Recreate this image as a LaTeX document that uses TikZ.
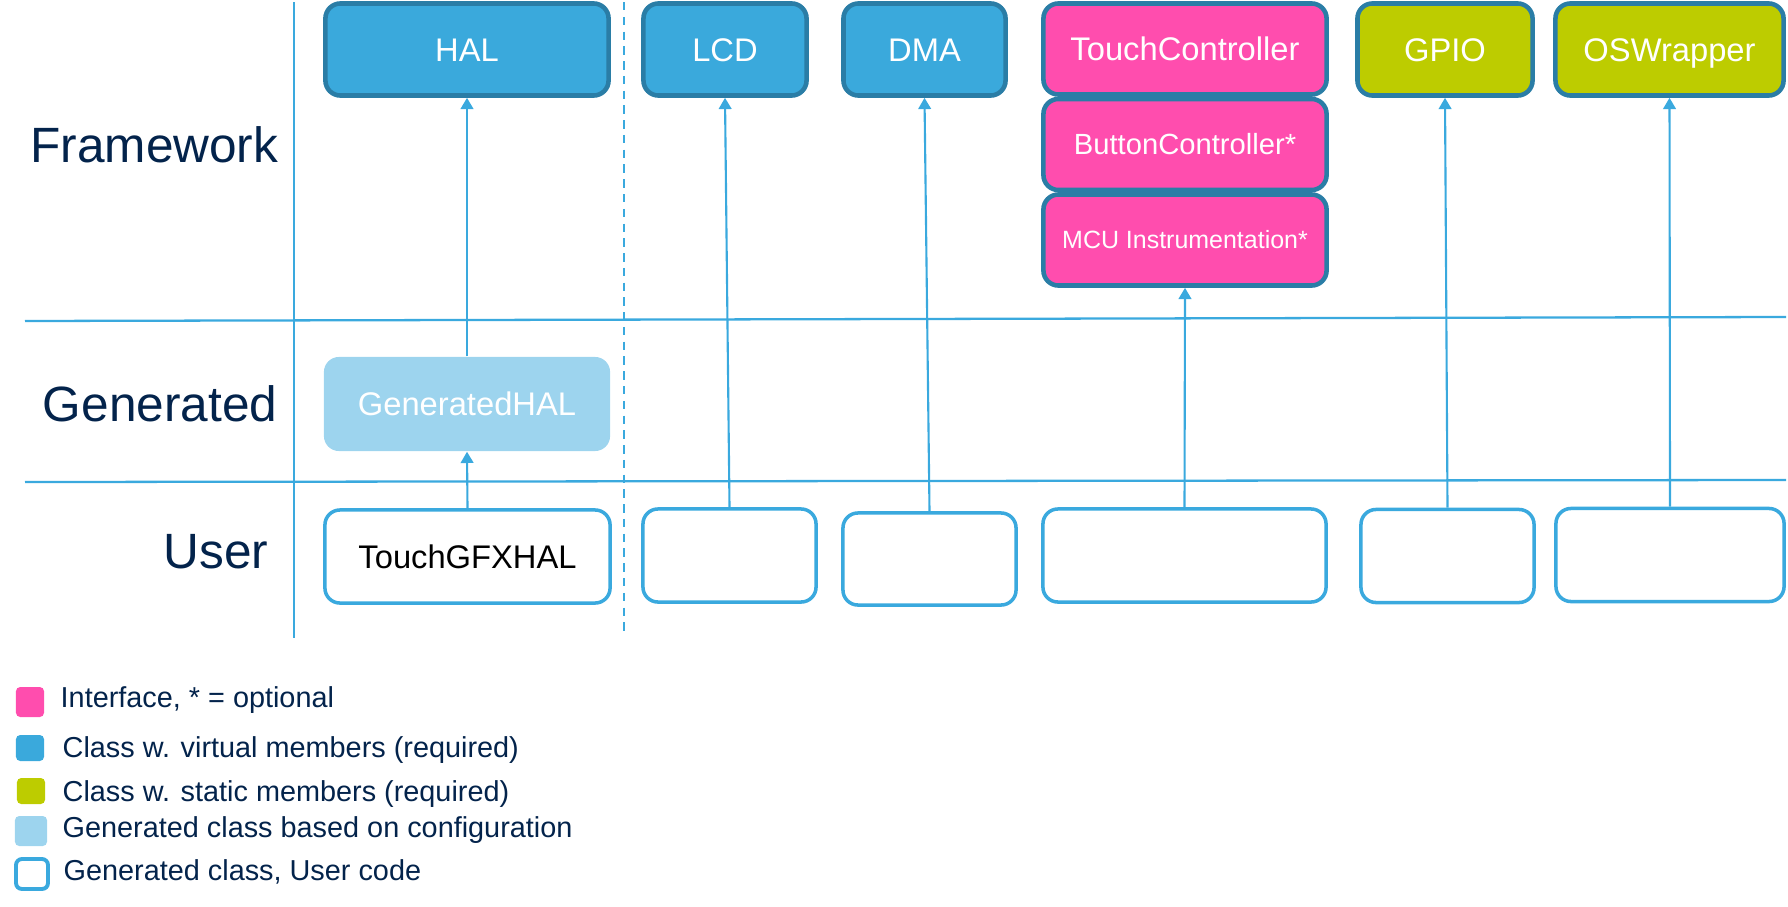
\documentclass[tikz,border=0pt]{standalone}
\usepackage{fontspec}
\setmainfont{Liberation Sans}
\usetikzlibrary{arrows.meta}
\definecolor{stblue}{HTML}{3AA9DC}
\definecolor{stdark}{HTML}{2A7DA6}
\definecolor{stpink}{HTML}{FF4DAE}
\definecolor{stgreen}{HTML}{BDCC00}
\definecolor{stlight}{HTML}{9DD4EE}
\definecolor{stnavy}{HTML}{03234B}
\definecolor{stline}{HTML}{3AA9DE}
\begin{document}
\begin{tikzpicture}[x=0.01cm,y=-0.01cm,>={Triangle[width=3.6pt,length=3.2pt]},
    cls/.style={draw=stdark,line width=1.3pt,rounded corners=0.15cm,text=white,inner sep=0pt,text height=6.7pt,text depth=0pt,font=\fontsize{9.3}{11}\selectfont},
    virt/.style={cls,fill=stblue},
    intf/.style={cls,fill=stpink},
    stat/.style={cls,fill=stgreen},
    gen/.style={fill=stlight,rounded corners=0.15cm,text=white,inner sep=0pt,text height=6.7pt,text depth=0pt,font=\fontsize{9.3}{11}\selectfont},
    usr/.style={draw=stline,line width=1pt,rounded corners=0.15cm,fill=white,inner sep=0pt,text height=6.7pt,text depth=0pt,font=\fontsize{9.3}{11}\selectfont},
    layer/.style={text=stnavy,anchor=base east,inner sep=0pt,font=\fontsize{14.1}{17}\selectfont},
    legtext/.style={text=stnavy,anchor=base west,inner sep=0pt,font=\fontsize{8.2}{10}\selectfont},
    swatch/.style={inner sep=0pt,rounded corners=1.2pt},
    dep/.style={->,draw=stline,line width=0.6pt},
    sep/.style={draw=stline,line width=0.65pt}]
\useasboundingbox (0,0) rectangle (1788,906);
% layer separators
\draw[sep] (294,2) -- (294,638);
\draw[sep,dash pattern=on 2.4pt off 1.8pt] (624,2) -- (624,636);
\draw[sep] (25,321) -- (1786,317);
\draw[sep] (25,482) -- (1786,480);
% layer names
\node[layer] (lframe) at (279,162) {Framework};
\node[layer] (lgen) at (278,421) {Generated};
\node[layer] (luser) at (269,568) {User};
% framework classes
\node[virt,minimum width=2.83cm,minimum height=0.92cm] (hal) at (467,49.5) {HAL};
\node[virt,minimum width=1.63cm,minimum height=0.92cm] (lcd) at (725,49.5) {LCD};
\node[virt,minimum width=1.62cm,minimum height=0.92cm] (dma) at (924.5,49.5) {DMA};
\node[intf,minimum width=2.83cm,minimum height=0.91cm] (touch) at (1185,49) {TouchController};
\node[intf,minimum width=2.83cm,minimum height=0.91cm,text height=5.9pt,font=\fontsize{8.3}{10}\selectfont] (button) at (1185,144.5) {ButtonController*};
\node[intf,minimum width=2.83cm,minimum height=0.91cm,text height=5.1pt,font=\fontsize{7.1}{9}\selectfont] (mcu) at (1185,240) {MCU Instrumentation*};
\node[stat,minimum width=1.75cm,minimum height=0.92cm] (gpio) at (1445,49.5) {GPIO};
\node[stat,minimum width=2.28cm,minimum height=0.92cm] (osw) at (1669.5,49.5) {OSWrapper};
% generated
\node[gen,minimum width=2.86cm,minimum height=0.94cm] (genhal) at (467,404) {GeneratedHAL};
% user code
\node[usr,minimum width=2.85cm,minimum height=0.93cm] (tgfx) at (467.5,556.5) {TouchGFXHAL};
\node[usr,minimum width=1.73cm,minimum height=0.93cm] (lcdu) at (729.5,555.5) {};
\node[usr,minimum width=1.73cm,minimum height=0.92cm] (dmau) at (929.5,559) {};
\node[usr,minimum width=2.83cm,minimum height=0.93cm] (touchu) at (1184.5,555.5) {};
\node[usr,minimum width=1.73cm,minimum height=0.93cm] (gpiou) at (1447.5,556) {};
\node[usr,minimum width=2.28cm,minimum height=0.93cm] (oswu) at (1670,555) {};
% inheritance
\draw[dep] (tgfx.north) -- (genhal.south);
\draw[dep] (genhal.north) -- (hal.south);
\draw[dep] (lcdu.north) -- (lcd.south);
\draw[dep] (dmau.north) -- (dma.south);
\draw[dep] (touchu.north) -- (mcu.south);
\draw[dep] (gpiou.north) -- (gpio.south);
\draw[dep] (oswu.north) -- (osw.south);
% legend
\node[swatch,fill=stpink,minimum width=0.28cm,minimum height=0.30cm] (kintf) at (30,702) {};
\node[swatch,fill=stblue,minimum width=0.28cm,minimum height=0.26cm] (kvirt) at (30,748) {};
\node[swatch,fill=stgreen,minimum width=0.28cm,minimum height=0.26cm] (kstat) at (31,791) {};
\node[swatch,fill=stlight,minimum width=0.32cm,minimum height=0.30cm] (kgen) at (31,831) {};
\node[swatch,draw=stline,line width=1.1pt,rounded corners=0.06cm,minimum width=0.32cm,minimum height=0.30cm] (kusr) at (32,874) {};
\node[legtext] (tintf) at (60,707) {Interface, * = optional};
\node[legtext] (tvirt) at (62,757) {Class w. virtual members (required)};
\node[legtext] (tstat) at (62,801) {Class w. static members (required)};
\node[legtext] (tgen) at (62,837) {Generated class based on configuration};
\node[legtext] (tusr) at (63,880) {Generated class, User code};
\end{tikzpicture}
\end{document}
